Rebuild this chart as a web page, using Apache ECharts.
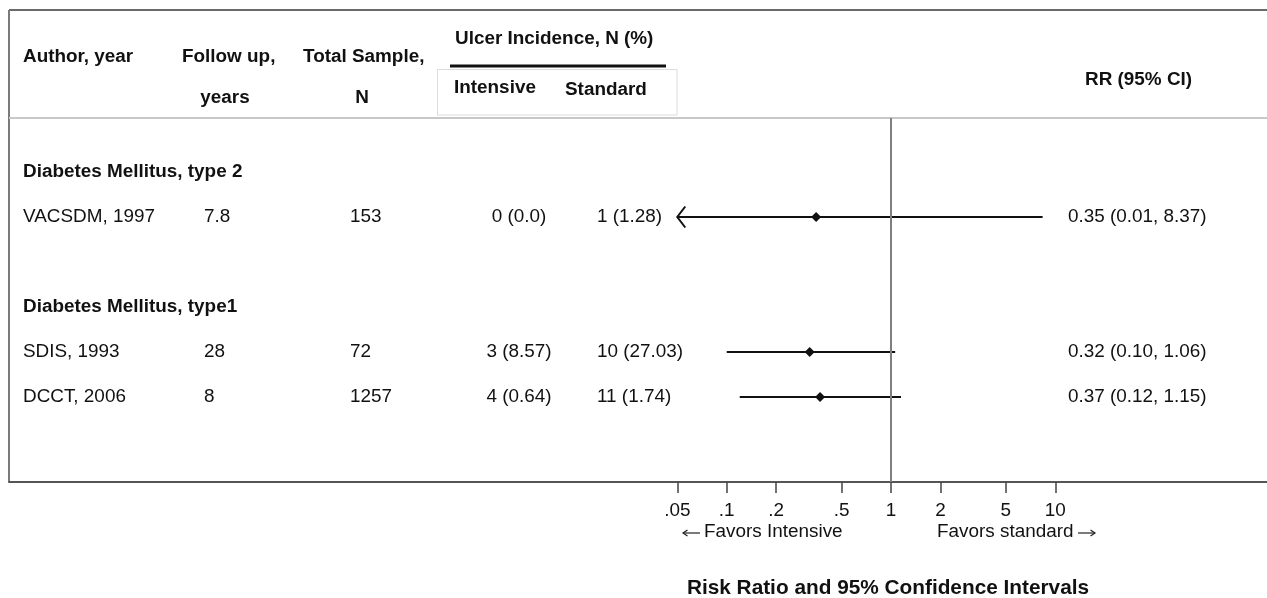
<!DOCTYPE html>
<html>
<head>
<meta charset="utf-8">
<script src="https://cdn.jsdelivr.net/npm/echarts@6/dist/echarts.min.js"></script>
<style>
  html, body { margin: 0; padding: 0; background: #fff; }
  #chart { width: 1267px; height: 598px; }
</style>
</head>
<body>
<div id="chart"></div>
<script>
// Subgroups and the studies within them
const groups = ['Diabetes Mellitus, type 2', 'Diabetes Mellitus, type1'];
const studies = ['VACSDM, 1997', 'SDIS, 1993', 'DCCT, 2006'];
const studyGroup = [0, 1, 1];
const followUpYears = ['7.8', '28', '8'];
const totalSample = [153, 72, 1257];
const intensiveN = [0, 3, 4];
const intensivePct = ['0.0', '8.57', '0.64'];
const standardN = [1, 10, 11];
const standardPct = ['1.28', '27.03', '1.74'];
const riskRatio = [0.35, 0.32, 0.37];
const ciLower = [0.01, 0.10, 0.12];
const ciUpper = [8.37, 1.06, 1.15];

// Risk-ratio axis ticks
const tickValues = [0.05, 0.1, 0.2, 0.5, 1, 2, 5, 10];
const tickLabels = ['.05', '.1', '.2', '.5', '1', '2', '5', '10'];

const FONT = '"Liberation Sans", Arial, Helvetica, sans-serif';
const REG = '18.9px ' + FONT;
const BOLD = 'bold 18.9px ' + FONT;
const TITLE = 'bold 20.8px ' + FONT;
const INK = '#111';
const ciFloor = tickValues[0];

// Lay out table rows: subgroup heading, its studies, then a spacer row
const rows = [];
let r = 1;
groups.forEach((g, gi) => {
  rows.push({ row: r++, kind: 'group', text: g });
  studies.forEach((s, si) => {
    if (studyGroup[si] === gi) rows.push({ row: r++, kind: 'study', idx: si });
  });
  r++;
});
const studyRow = studies.map((s, si) => rows.find(x => x.kind === 'study' && x.idx === si).row);

function tickLabel(v) {
  for (let i = 0; i < tickValues.length; i++) {
    if (Math.abs(Math.log10(v) - Math.log10(tickValues[i])) < 1e-6) return tickLabels[i];
  }
  return '';
}

function txt(x, y, text, font, align) {
  return {
    type: 'text', x: x, y: y,
    style: { text: text, font: font, fill: INK, textAlign: align || 'left', textVerticalAlign: 'middle' }
  };
}

// thin text-style arrow, dir = -1 points left, +1 points right
function arrow(x1, x2, y, dir) {
  const tip = dir < 0 ? x1 : x2;
  return {
    type: 'group',
    children: [
      { type: 'line', shape: { x1: x1, y1: y, x2: x2, y2: y }, style: { stroke: '#222', lineWidth: 1.2 } },
      { type: 'polyline', shape: { points: [[tip - dir * 4.5, y - 3], [tip, y], [tip - dir * 4.5, y + 3]] }, style: { stroke: '#222', lineWidth: 1.2, fill: null } }
    ]
  };
}

const chart = echarts.init(document.getElementById('chart'), null, { renderer: 'canvas' });

const option = {
  animation: false,
  backgroundColor: '#fff',
  grid: { left: 9, right: 0, top: 118, bottom: 116, containLabel: false },
  xAxis: {
    type: 'log',
    logBase: 10,
    min: 4.28e-6,
    max: 194.3,
    position: 'bottom',
    axisLine: { show: true, onZero: false, lineStyle: { color: '#555', width: 2 } },
    axisTick: { show: true, customValues: tickValues, length: 11, lineStyle: { color: '#444', width: 1.5 } },
    axisLabel: { show: true, customValues: tickValues, formatter: tickLabel, fontSize: 18.9, fontFamily: FONT, color: INK, margin: 19 },
    splitLine: { show: false },
    minorTick: { show: false }
  },
  yAxis: {
    type: 'value',
    inverse: true,
    min: -0.2,
    max: 7.889,
    show: false
  },
  series: [
    {
      // table text, one entry per row
      type: 'custom',
      silent: true,
      clip: false,
      encode: { x: 0, y: 1 },
      data: rows.map(x => [1, x.row]),
      renderItem: function (params, api) {
        const info = rows[params.dataIndex];
        const y = api.coord([1, api.value(1)])[1];
        if (info.kind === 'group') {
          return { type: 'group', children: [txt(23, y, info.text, BOLD)] };
        }
        const i = info.idx;
        const rrText = riskRatio[i].toFixed(2) + ' (' + ciLower[i].toFixed(2) + ', ' + ciUpper[i].toFixed(2) + ')';
        return {
          type: 'group',
          children: [
            txt(23, y, studies[i], REG),
            txt(204, y, followUpYears[i], REG),
            txt(350, y, String(totalSample[i]), REG),
            txt(519, y, intensiveN[i] + ' (' + intensivePct[i] + ')', REG, 'center'),
            txt(597, y, standardN[i] + ' (' + standardPct[i] + ')', REG),
            txt(1068, y, rrText, REG)
          ]
        };
      }
    },
    {
      // risk ratio with 95% CI
      type: 'custom',
      silent: true,
      clip: false,
      encode: { x: 0, y: 1 },
      data: studies.map((s, i) => [riskRatio[i], studyRow[i], ciLower[i], ciUpper[i]]),
      renderItem: function (params, api) {
        const row = api.value(1);
        const lo = api.value(2), hi = api.value(3);
        const clipped = lo < ciFloor;
        const p = api.coord([api.value(0), row]);
        const a = api.coord([clipped ? ciFloor : lo, row]);
        const b = api.coord([hi, row]);
        const stroke = { stroke: INK, lineWidth: 2 };
        const children = [
          { type: 'line', shape: { x1: a[0], y1: a[1], x2: b[0], y2: b[1] }, style: stroke },
          { type: 'polygon', shape: { points: [[p[0] - 5, p[1]], [p[0], p[1] - 5], [p[0] + 5, p[1]], [p[0], p[1] + 5]] }, style: { fill: INK } }
        ];
        if (clipped) {
          children.push({ type: 'polyline', shape: { points: [[a[0] + 8, a[1] - 10.5], [a[0], a[1]], [a[0] + 8, a[1] + 10.5]] }, style: { stroke: INK, lineWidth: 2, fill: null } });
        }
        return { type: 'group', children: children };
      },
      markLine: {
        silent: true,
        symbol: 'none',
        label: { show: false },
        lineStyle: { color: '#7f7f7f', width: 2, type: 'solid' },
        data: [{ xAxis: 1 }]
      }
    }
  ],
  graphic: [
    // frame
    { type: 'line', shape: { x1: 9, y1: 10, x2: 1267, y2: 10 }, style: { stroke: '#6a6a6a', lineWidth: 2 } },
    { type: 'line', shape: { x1: 9, y1: 10, x2: 9, y2: 482 }, style: { stroke: '#7a7a7a', lineWidth: 2 } },
    { type: 'line', shape: { x1: 9, y1: 118, x2: 1267, y2: 118 }, style: { stroke: '#c8c8c8', lineWidth: 2 } },
    // column headings
    txt(23, 57, 'Author, year', BOLD),
    txt(182, 57, 'Follow up,', BOLD),
    txt(225, 98, 'years', BOLD, 'center'),
    txt(303, 57, 'Total Sample,', BOLD),
    txt(362, 98, 'N', BOLD, 'center'),
    txt(455, 39, 'Ulcer Incidence, N (%)', BOLD),
    { type: 'rect', shape: { x: 450, y: 64.5, width: 216, height: 3 }, style: { fill: INK } },
    { type: 'rect', shape: { x: 437.5, y: 69.5, width: 239.5, height: 45.5 }, style: { fill: null, stroke: '#dcdcdc', lineWidth: 1 } },
    txt(454, 88, 'Intensive', BOLD),
    txt(565, 90, 'Standard', BOLD),
    txt(1085, 80, 'RR (95% CI)', BOLD),
    // axis annotations
    arrow(683, 700, 533, -1),
    txt(704, 532, 'Favors Intensive', REG),
    txt(937, 532, 'Favors standard', REG),
    arrow(1078, 1095, 533, 1),
    txt(888, 588, 'Risk Ratio and 95% Confidence Intervals', TITLE, 'center')
  ]
};

chart.setOption(option);
</script>
</body>
</html>
